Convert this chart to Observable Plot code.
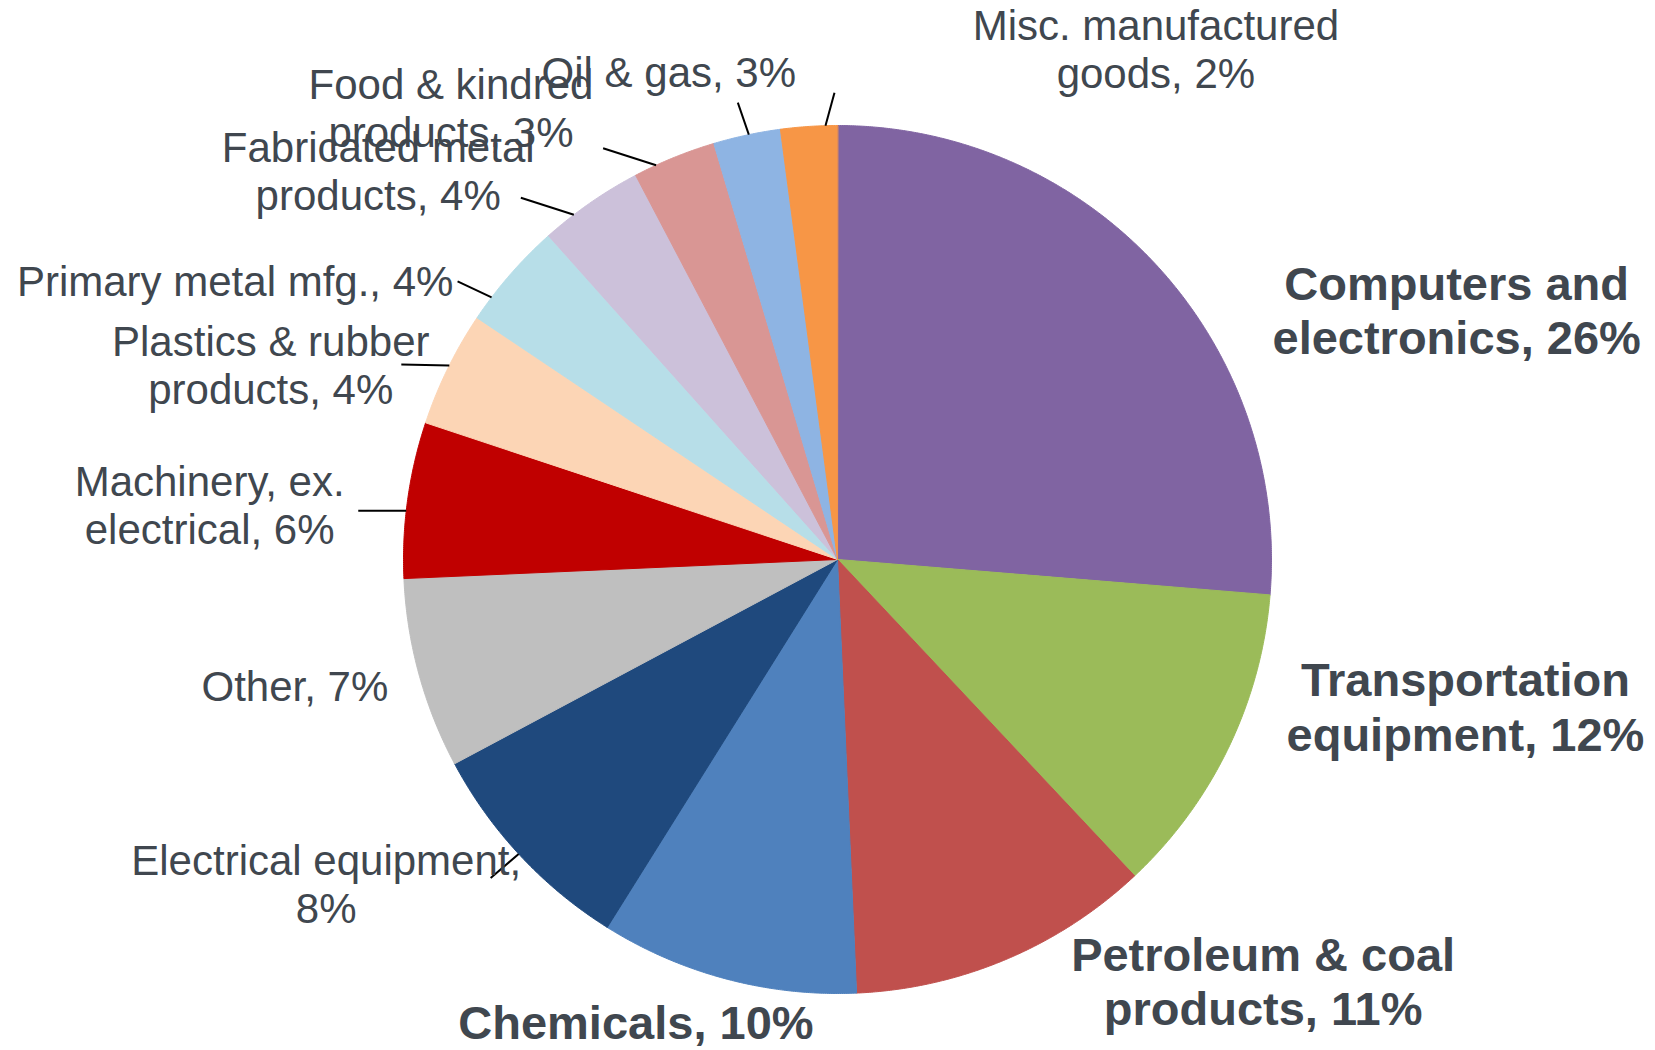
<!DOCTYPE html>
<html>
<head>
<meta charset="utf-8">
<script src="https://cdn.jsdelivr.net/npm/d3@7"></script>
<script src="https://cdn.jsdelivr.net/npm/@observablehq/plot@0.6"></script>
<style>
  html, body { margin: 0; padding: 0; background: #ffffff; overflow: hidden; }
  #chart svg { display: block; }
</style>
</head>
<body>
<div id="chart"></div>
<script>
// ---- data ----
const categories = [
  "Computers and electronics", "Transportation equipment", "Petroleum & coal products",
  "Chemicals", "Electrical equipment", "Other", "Machinery, ex. electrical",
  "Plastics & rubber products", "Primary metal mfg.", "Fabricated metal products",
  "Food & kindred products", "Oil & gas", "Misc. manufactured goods"
];
const shares = [26.3, 11.7, 11.3, 9.6, 8.3, 7.1, 5.8, 4.3, 4.0, 3.9, 3.1, 2.5, 2.1];
const labelNames = [
  "Computers and\nelectronics", "Transportation\nequipment", "Petroleum & coal\nproducts",
  "Chemicals", "Electrical equipment", "Other", "Machinery, ex.\nelectrical",
  "Plastics & rubber\nproducts", "Primary metal mfg.", "Fabricated metal\nproducts",
  "Food & kindred\nproducts", "Oil & gas", "Misc. manufactured\ngoods"
];
const pctOnOwnLine = ["Electrical equipment"];
const boldCategories = ["Computers and electronics", "Transportation equipment", "Petroleum & coal products", "Chemicals"];

// ---- styles / layout ----
const colors = ["#8064A2", "#9BBB59", "#C0504D", "#4F81BD", "#1F497D", "#BFBFBF", "#C00000",
                "#FCD5B5", "#B7DEE8", "#CCC1DA", "#D99694", "#8EB4E3", "#F79646"];
const W = 1655, H = 1050;
const cx = 837, cy = 559, R = 434;           // pie centre & radius (px)
// label nudges (px) from the slice's outer mid-point
const labelNudge = [[300, 44], [237, -42], [257, 21], [-91, 42], [-194, 28], [-124, 12], [-198, 5],
                    [-177, -4], [-275, 6], [-212, -32], [-223, -50], [-78, -64], [347, -78]];
// leader lines: where along the slice's arc they touch (0 = start, 1 = end), and vector (px) toward the label
const leaderAt = [null, null, null, null, 0.51, null, 0.43, 0.53, 0.23, 0.31, 0.27, 0.53, 0.79];
const leaderVec = [null, null, null, null, [-28, 24], null, [-48, 0],
                   [-48, -1], [-34, -16], [-53, -17], [-53, -17], [-11, -32], [9, -33]];
const textColor = "#40474F";

// ---- build ----
const total = d3.sum(shares);
let acc = 0;
const slices = categories.map((name, i) => {
  const a0 = acc / total * 2 * Math.PI;
  acc += shares[i];
  const a1 = acc / total * 2 * Math.PI;
  return {name, i, a0, a1, mid: (a0 + a1) / 2, pct: Math.round(shares[i])};
});

const slicePts = [];
for (const s of slices) {
  slicePts.push({name: s.name, x: 0, y: 0});
  const n = Math.max(4, Math.ceil((s.a1 - s.a0) / (0.25 * Math.PI / 180)));
  for (let k = 0; k <= n; k++) {
    const a = s.a0 + (s.a1 - s.a0) * k / n;
    slicePts.push({name: s.name, x: Math.sin(a), y: Math.cos(a)});
  }
}

const labels = slices.map(s => {
  const ex = Math.sin(s.mid), ey = Math.cos(s.mid);
  const [dx, dy] = labelNudge[s.i];
  const sep = pctOnOwnLine.includes(s.name) ? ",\n" : ", ";
  return {
    name: s.name,
    x: ex + dx / R,
    y: ey - dy / R,
    text: labelNames[s.i] + sep + s.pct + "%",
    bold: boldCategories.includes(s.name)
  };
});

const leaders = slices.filter(s => leaderVec[s.i]).map(s => {
  const a = s.a0 + (s.a1 - s.a0) * leaderAt[s.i];
  const ex = Math.sin(a), ey = Math.cos(a);
  const [vx, vy] = leaderVec[s.i];
  return {name: s.name, x1: ex + vx / R, y1: ey - vy / R, x2: ex, y2: ey};
});

const chart = Plot.plot({
  width: W,
  height: H,
  margin: 0,
  style: {fontFamily: "'Liberation Sans', Arial, sans-serif", background: "#ffffff"},
  x: {domain: [-cx / R, (W - cx) / R], range: [0, W], axis: null},
  y: {domain: [-(H - cy) / R, cy / R], range: [H, 0], axis: null},
  color: {domain: categories, range: colors},
  marks: [
    Plot.line(slicePts, {x: "x", y: "y", z: "name", fill: "name", stroke: "name",
      strokeWidth: 1, curve: "linear-closed"}),
    Plot.link(leaders, {x1: "x1", y1: "y1", x2: "x2", y2: "y2", stroke: "#000000", strokeWidth: 2}),
    Plot.text(labels.filter(d => !d.bold), {x: "x", y: "y", text: "text", fill: textColor,
      fontSize: 42, lineHeight: 1.15, textAnchor: "middle", lineAnchor: "middle"}),
    Plot.text(labels.filter(d => d.bold), {x: "x", y: "y", text: "text", fill: textColor,
      fontSize: 47, fontWeight: "bold", lineHeight: 1.17, textAnchor: "middle", lineAnchor: "middle"})
  ]
});
document.getElementById("chart").appendChild(chart);
</script>
</body>
</html>
